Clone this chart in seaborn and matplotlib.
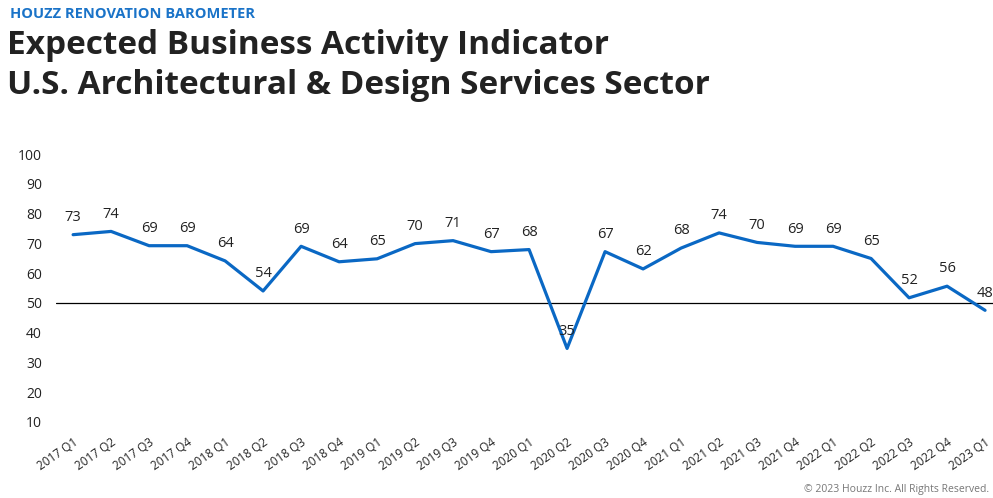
import pandas as pd
import numpy as np
import matplotlib.pyplot as plt
import seaborn as sns

################ DATA ################
quarters = [
    '2017 Q1', '2017 Q2', '2017 Q3', '2017 Q4',
    '2018 Q1', '2018 Q2', '2018 Q3', '2018 Q4',
    '2019 Q1', '2019 Q2', '2019 Q3', '2019 Q4',
    '2020 Q1', '2020 Q2', '2020 Q3', '2020 Q4',
    '2021 Q1', '2021 Q2', '2021 Q3', '2021 Q4',
    '2022 Q1', '2022 Q2', '2022 Q3', '2022 Q4',
    '2023 Q1'
]

# plotted values
values = [72.9, 74.0, 69.2, 69.2, 64.1, 54.0, 69.0, 63.8, 64.8, 69.9, 70.9, 67.2,
          67.9, 34.7, 67.2, 61.4, 68.4, 73.5, 70.3, 69.0, 69.0, 64.9, 51.7, 55.6, 47.5]

# printed data labels
point_labels = ['73', '74', '69', '69', '64', '54', '69', '64', '65', '70', '71', '67',
                '68', '35', '67', '62', '68', '74', '70', '69', '69', '65', '52', '56', '48']

y_ticks = [10, 20, 30, 40, 50, 60, 70, 80, 90, 100]

df = pd.DataFrame({'quarter': quarters, 'value': values})
df['pos'] = np.arange(len(df))

################ STYLE ################
sns.set_style('white')
plt.rcParams['font.family'] = ['Open Sans', 'DejaVu Sans']

text_dark = '#222222'
line_blue = '#0a68c4'

fig = plt.figure(figsize=(9.93, 4.98), dpi=100)
ax = fig.add_axes([56 / 993, 1 - 430 / 498, (993 - 56) / 993, (430 - 154) / 498])

sns.lineplot(data=df, x='pos', y='value', color=line_blue, linewidth=2.3, ax=ax)

# reference line at 50
ax.axhline(50, color='black', linewidth=0.9, zorder=1)

for i, (v, lab) in enumerate(zip(values, point_labels)):
    ax.annotate(lab, (i, v), xytext=(0, 7), textcoords='offset points',
                ha='center', va='bottom', fontsize=10.5, color=text_dark)

ax.set_xlim(-0.45, (993 - 75) / 37.92)
ax.set_ylim(7.3, 100)
ax.set_yticks(y_ticks)
ax.set_yticklabels([str(t) for t in y_ticks], fontsize=10, color=text_dark)
ax.set_xticks(df['pos'])
ax.set_xticklabels(quarters, rotation=35, ha='right', rotation_mode='anchor',
                   fontsize=8.5, color=text_dark)
ax.tick_params(axis='both', length=0)
ax.tick_params(axis='y', pad=10)
ax.tick_params(axis='x', pad=4)
ax.set_xlabel('')
ax.set_ylabel('')
sns.despine(ax=ax, left=True, bottom=True)

################ TITLES ################
fig.text(10 / 993, 1 - 14 / 498, 'HOUZZ RENOVATION BAROMETER', fontsize=10.5,
         fontweight='bold', color='#1a73c8', ha='left', va='center')
fig.text(7 / 993, 1 - 45 / 498, 'Expected Business Activity Indicator', fontsize=24,
         fontweight='bold', color=text_dark, ha='left', va='center')
fig.text(7 / 993, 1 - 85 / 498, 'U.S. Architectural & Design Services Sector', fontsize=24,
         fontweight='bold', color=text_dark, ha='left', va='center')
fig.text(989 / 993, 1 - 489 / 498, '\u00a9 2023 Houzz Inc. All Rights Reserved.',
         fontsize=7.5, color='#777777', ha='right', va='center')

plt.savefig('out.png', dpi=100)
